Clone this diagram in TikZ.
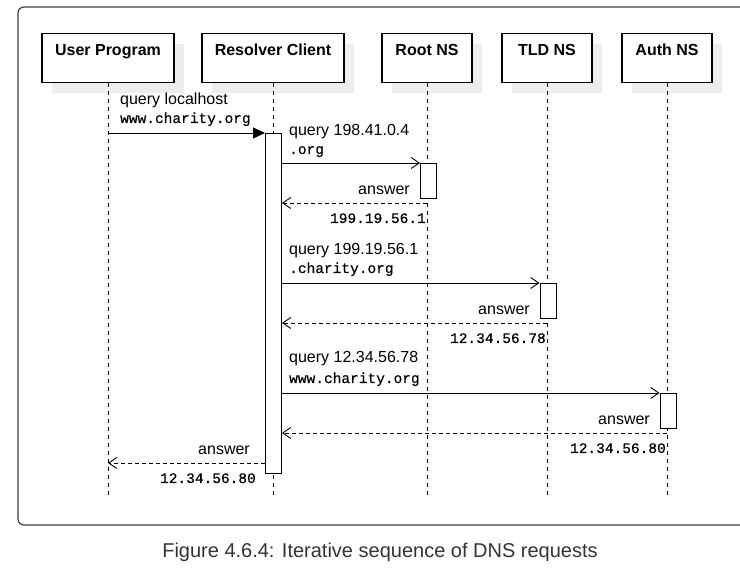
\documentclass[tikz,border=0pt]{standalone}
\usepackage{fontspec}
\setmainfont{Liberation Sans}
\setmonofont{Liberation Mono}
\newfontfamily\monoheavy{Liberation Mono}[FakeBold=0.5]
\usetikzlibrary{arrows.meta,shadows}
\definecolor{framegray}{HTML}{3C3C3C}
\definecolor{captiongray}{HTML}{333333}
\begin{document}
\begin{tikzpicture}[x=1pt,y=-1pt,
  hdr/.style={draw=black, line width=1.1pt, fill=white, minimum width=#1, minimum height=49,
    inner sep=0pt, anchor=north, font=\fontsize{16}{18}\selectfont\bfseries,
    text height=12pt, text depth=17pt,
    drop shadow={shadow xshift=10pt, shadow yshift=-10pt, fill=black!7, opacity=1}},
  lifeline/.style={draw=black, line width=0.8pt, dash pattern=on 4pt off 4pt},
  actbar/.style={draw=black, line width=1pt, fill=white, minimum width=16, inner sep=0pt, anchor=north},
  msg/.style={draw=black, line width=0.9pt},
  callmsg/.style={msg, -{Triangle[length=12pt,width=11pt]}},
  reqmsg/.style={msg, -{Straight Barb[length=8pt,width=11pt,line width=0.9pt]}},
  retmsg/.style={msg, dash pattern=on 4pt off 3pt, -{Straight Barb[length=8pt,width=11pt,line width=0.9pt]}},
  lbl/.style={inner sep=0pt, font=\fontsize{16}{18}\selectfont},
  mono/.style={inner sep=0pt, font=\fontsize{14.5}{16}\selectfont\monoheavy}
]
\useasboundingbox (0,0) rectangle (740,569);
\begin{scope}
\clip (0,0) rectangle (740,569);
\draw[framegray, line width=1.2pt, rounded corners=6pt] (18,7) rectangle (750,525);
\end{scope}

% headers
\node[hdr=132] (up) at (108,33) {User Program};
\node[hdr=142] (rc) at (273,33) {Resolver Client};
\node[hdr=90] (root) at (427,33) {Root NS};
\node[hdr=90] (tld) at (547,33) {TLD NS};
\node[hdr=90] (auth) at (667,33) {Auth NS};

% lifelines
\foreach \n in {up,rc,root,tld,auth}{
  \coordinate (\n-end) at (\n.south |- 0,499);
  \draw[lifeline] (\n.south) -- (\n-end);
}

% activation bars
\node[actbar, minimum height=340] (barrc) at (273.5,133) {};
\node[actbar, minimum height=35] (barroot) at (428.5,163) {};
\node[actbar, minimum height=35] (bartld) at (548,283) {};
\node[actbar, minimum height=35] (barauth) at (668,393) {};

% message 1
\coordinate (m1s) at (up.south |- 0,133);
\draw[callmsg] (m1s) -- (barrc.north west);
\node[lbl, anchor=base west] (t1a) at (120,105) {query localhost};
\node[mono, anchor=base west] (t1b) at (120,123) {www.charity.org};

% message 2: root
\coordinate (m2s) at (barrc.east |- barroot.north);
\draw[reqmsg] (m2s) -- (barroot.north west);
\node[lbl, anchor=base west] (t2a) at (289,136) {query 198.41.0.4};
\node[mono, anchor=base west] (t2b) at (289,154) {.org};
\coordinate (r2s) at (root.south |- 0,203);
\coordinate (r2e) at (barrc.east |- 0,203);
\draw[retmsg] (r2s) -- (r2e);
\node[lbl, anchor=base east] (a2) at (410,195) {answer};
\node[mono, anchor=base east] (v2) at (426,223) {199.19.56.1};

% message 3: tld
\coordinate (m3s) at (barrc.east |- bartld.north);
\draw[reqmsg] (m3s) -- (bartld.north west);
\node[lbl, anchor=base west] (t3a) at (289,255) {query 199.19.56.1};
\node[mono, anchor=base west] (t3b) at (289,273) {.charity.org};
\coordinate (r3s) at (tld.south |- 0,323);
\coordinate (r3e) at (barrc.east |- 0,323);
\draw[retmsg] (r3s) -- (r3e);
\node[lbl, anchor=base east] (a3) at (530,315) {answer};
\node[mono, anchor=base east] (v3) at (546,343) {12.34.56.78};

% message 4: auth
\coordinate (m4s) at (barrc.east |- barauth.north);
\draw[reqmsg] (m4s) -- (barauth.north west);
\node[lbl, anchor=base west] (t4a) at (289,363) {query 12.34.56.78};
\node[mono, anchor=base west] (t4b) at (289,383) {www.charity.org};
\coordinate (r4s) at (auth.south |- 0,433);
\coordinate (r4e) at (barrc.east |- 0,433);
\draw[retmsg] (r4s) -- (r4e);
\node[lbl, anchor=base east] (a4) at (650,425) {answer};
\node[mono, anchor=base east] (v4) at (666,453) {12.34.56.80};

% final answer
\coordinate (r5s) at (barrc.west |- 0,463);
\coordinate (r5e) at (up.south |- 0,463);
\draw[retmsg] (r5s) -- (r5e);
\node[lbl, anchor=base east] (a5) at (250,455) {answer};
\node[mono, anchor=base east] (v5) at (256,483) {12.34.56.80};

% caption
\node[inner sep=0pt, anchor=base, font=\fontsize{20}{22}\selectfont, text=captiongray] (cap) at (380,558) {Figure 4.6.4: Iterative sequence of DNS requests};
\end{tikzpicture}
\end{document}
